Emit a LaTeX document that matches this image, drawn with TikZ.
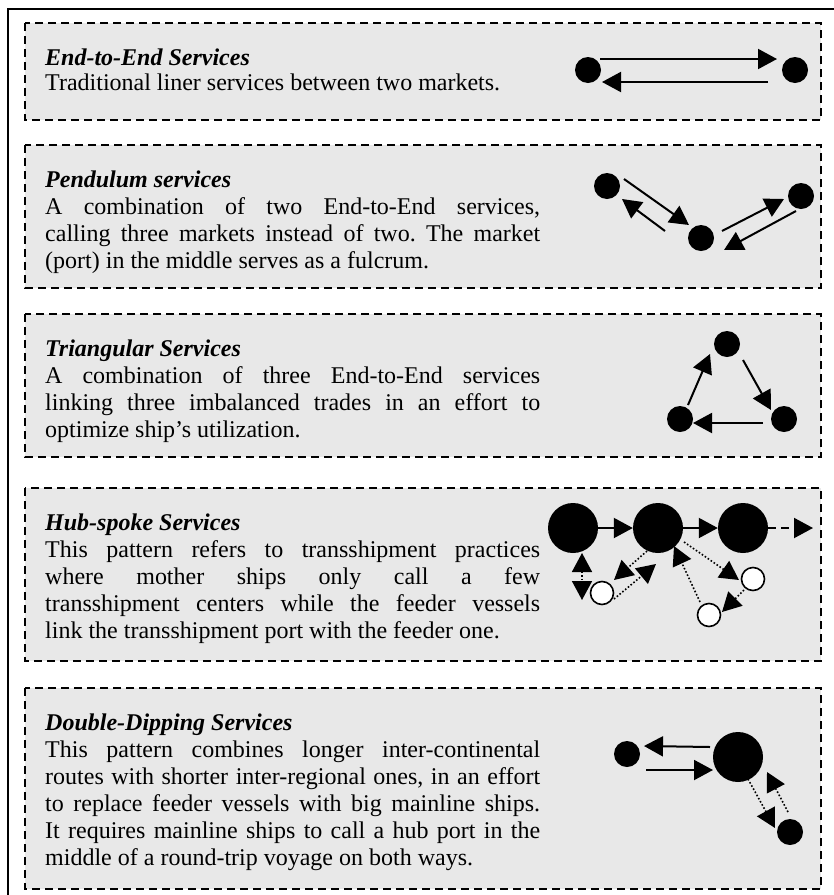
\documentclass[tikz,border=0pt]{standalone}
\usepackage{fontspec}
\setmainfont{Liberation Serif}
\usetikzlibrary{arrows.meta,calc}

\definecolor{boxgray}{HTML}{E8E8E8}
\tolerance=10000
\hbadness=10000
\frenchspacing

\begin{document}
\begin{tikzpicture}[
  x=1pt, y=-1pt,
  font=\fontsize{24}{27}\selectfont,
  >={Triangle[length=19pt,width=20pt]},
  panel/.style={draw=black, fill=boxgray, line width=1.6pt, dash pattern=on 8pt off 5pt},
  heading/.style={anchor=base west, inner sep=0pt, font=\fontsize{24}{27}\selectfont\bfseries\itshape},
  blurb/.style={anchor=base west, inner sep=0pt, text width=495pt, align=justify},
  port/.style={circle, fill=black, inner sep=0pt, minimum size=26pt},
  hub/.style={circle, fill=black, inner sep=0pt, minimum size=50pt},
  feeder/.style={circle, draw=black, fill=white, line width=1.6pt, inner sep=0pt, minimum size=23pt},
  route/.style={->, line width=2pt},
  feed/.style={->, line width=1.6pt, dash pattern=on 1.6pt off 2pt},
]
% Coordinate system: pixels of the page, y pointing down
\useasboundingbox (0,0) rectangle (834,895);

% --- Frame and panels ---
\draw[line width=1.5pt] (8,900) -- (8,9) -- (840,9);
\foreach \ytop/\ybot in {23/120,145/288,314/457,488/661,688/889}
  \draw[panel] (25,\ytop) rectangle (821,\ybot);

% --- Texts ---
\node[heading] (ttl1) at (45,65) {End-to-End Services};
\node[blurb] (txt1) at (45,90) {Traditional liner services between two markets.};

\node[heading] (ttl2) at (45,187) {Pendulum services};
\node[blurb] (txt2) at (45,214) {A combination of two End-to-End services,\linebreak
  calling three markets instead of two. The market\linebreak
  (port) in the middle serves as a fulcrum.};

\node[heading] (ttl3) at (45,356) {Triangular Services};
\node[blurb] (txt3) at (45,383) {A combination of three End-to-End services\linebreak
  linking three imbalanced trades in an effort to\linebreak
  optimize ship’s utilization.};

\node[heading] (ttl4) at (45,530) {Hub-spoke Services};
\node[blurb] (txt4) at (45,557) {\parfillskip=0pt
  This pattern refers to transshipment practices\linebreak
  where mother ships only call a few\linebreak
  transshipment centers while the feeder vessels\linebreak
  link the transshipment port with the feeder one.};

\node[heading] (ttl5) at (45,730) {Double-Dipping Services};
\node[blurb] (txt5) at (45,757) {This pattern combines longer inter-continental\linebreak
  routes with shorter inter-regional ones, in an effort\linebreak
  to replace feeder vessels with big mainline ships.\linebreak
  It requires mainline ships to call a hub port in the\linebreak
  middle of a round-trip voyage on both ways.};

% --- End-to-End ---
\node[port] (e1) at (588,70) {};
\node[port] (e2) at (795,70) {};
\draw[route] ($(e1)+(12,-11)$) -- ($(e2)+(-18,-11)$);
\draw[route] ($(e2)+(-27,12)$) -- ($(e1)+(14,12)$);

% --- Pendulum ---
\node[port] (p1) at (607,186) {};
\node[port] (p2) at (701,238) {};
\node[port] (p3) at (801,196) {};
\draw[route] ($(p1)+(17,-7)$) -- ($(p2)+(-12,-13)$);
\draw[route] ($(p2)+(-36,-7)$) -- ($(p1)+(15,13)$);
\draw[route] ($(p2)+(21,-7)$) -- ($(p3)+(-17,3)$);
\draw[route] ($(p3)+(-5,15)$) -- ($(p2)+(23,12)$);

% --- Triangular ---
\node[port] (t1) at (727,344) {};
\node[port] (t2) at (680,419) {};
\node[port] (t3) at (784,419) {};
\draw[route] ($(t1)+(16,16)$) -- ($(t3)+(-13,-9)$);
\draw[route] ($(t3)+(-21,4)$) -- ($(t2)+(13,4)$);
\draw[route] ($(t2)+(8,-14)$) -- ($(t1)+(-17,10)$);

% --- Hub-spoke ---
\node[hub] (h1) at (573,528) {};
\node[hub] (h2) at (658,528) {};
\node[hub] (h3) at (743,528) {};
\node[feeder] (f1) at (602,593) {};
\node[feeder] (f2) at (753,579) {};
\node[feeder] (f3) at (709,615) {};
\coordinate (hout) at (813,528);
\draw[route] (h1) -- (h2);
\draw[route] (h2) -- (h3);
\draw[route, dash pattern=on 8pt off 5pt] (h3) -- (hout);
\draw[feed, <->] ($(h1)+(9,25)$) -- ($(f1)+(-20,7)$);
\draw[feed] ($(h2)+(-11,23)$) -- ($(f1)+(12,-13)$);
\draw[feed] ($(f1)+(12,6)$) -- ($(h2)+(-2,36)$);
\draw[feed] ($(h2)+(26,14)$) -- ($(f2)+(-14,1)$);
\draw[feed] ($(f3)+(-9,-13)$) -- ($(h2)+(16,18)$);
\draw[feed] ($(f2)+(-9,11)$) -- ($(f3)+(13,-3)$);

% --- Double-dipping ---
\node[port] (d1) at (627,754) {};
\node[hub] (d2) at (738,757) {};
\node[port] (d3) at (790,832) {};
\draw[route] ($(d2)+(-28,-10)$) -- ($(d1)+(17,-8)$);
\draw[route] ($(d1)+(19,16)$) -- ($(d2)+(-25,13)$);
\draw[feed] ($(d2)+(10,22)$) -- ($(d3)+(-15,-4)$);
\draw[feed] ($(d3)+(-2,-20)$) -- ($(d2)+(29,15)$);

\end{tikzpicture}
\end{document}
